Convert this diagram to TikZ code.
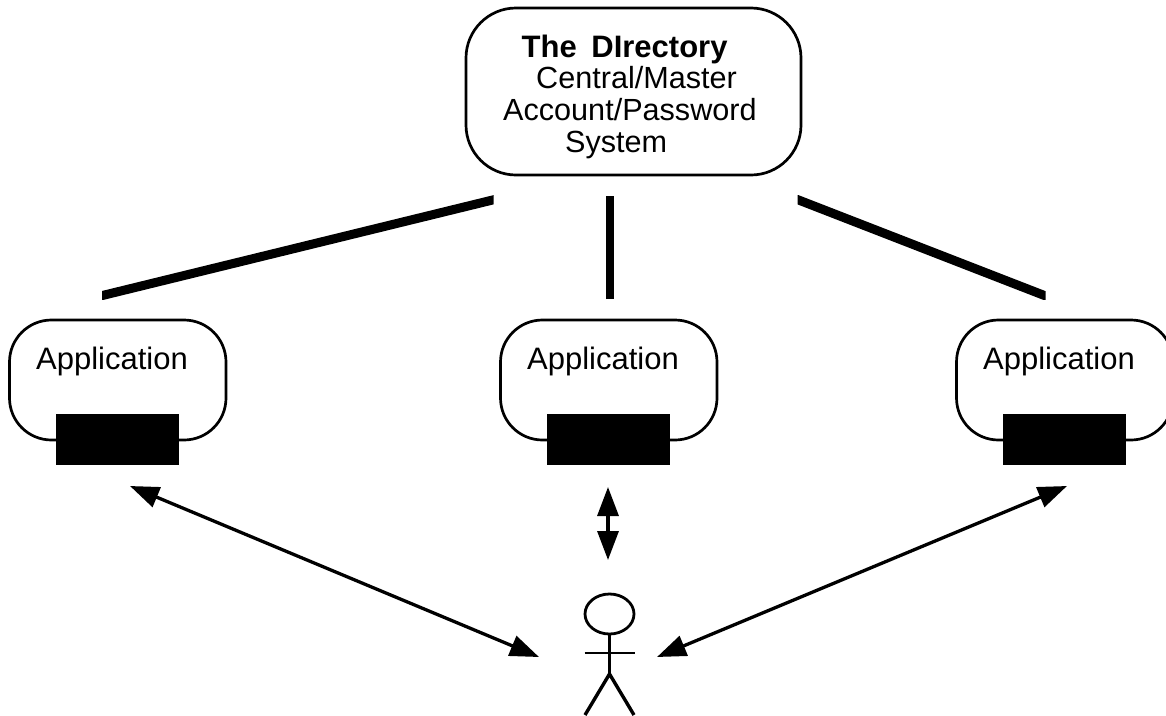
\documentclass[tikz,border=0pt]{standalone}
\usepackage{fontspec}
\setmainfont{Liberation Sans}
\usetikzlibrary{arrows.meta,shapes.geometric}
\tikzset{
  rbox/.style={draw,line width=2.7pt,rounded corners=#1},
  plug/.style={fill=black,draw=none,minimum width=123pt,minimum height=51pt,inner sep=0pt},
  lab/.style={inner sep=0pt,anchor=base west,font=\fontsize{31}{36}\selectfont},
  dirlab/.style={inner sep=0pt,anchor=base west,font=\fontsize{30.6}{36}\selectfont},
  dbl/.style={line width=3.3pt,{Triangle[length=29pt,width=21pt]}-{Triangle[length=29pt,width=21pt]}},
  man/.style={line width=2.8pt},
  leg/.style={line width=3.4pt},
  bar/.style={line width=9pt},
}
\begin{document}
\begin{tikzpicture}[x=1pt,y=-1pt]
\useasboundingbox (0,0) rectangle (1166,715);
\fill[white] (0,0) rectangle (1166,715);
\begin{scope}
\clip (0,0) rectangle (1166,715);
% directory
\draw[rbox=50pt] (466,8) rectangle (801,175);
\node[lab,font=\fontsize{31}{36}\selectfont\bfseries] (dirtitle) at (521.5,57) {The\hspace{6pt} DIrectory};
\node[dirlab] (dir1) at (536,88) {Central/Master};
\node[dirlab] (dir2) at (503,120) {Account/Password};
\node[dirlab] (dir3) at (565,152) {System};
% apps
\foreach \n/\x in {a/0,b/491,c/947}{
  \begin{scope}[shift={(\x,0)}]
  \draw[rbox=42pt] (9.5,320) rectangle (226,440);
  \node[plug] (\n p) at (117.5,439.5) {};
  \node[lab] (\n l) at (36,369) {Application};
  \end{scope}
}
% links to directory: ends cut square to the page axes
\coordinate (d1) at (513,195); \coordinate (a1) at (82,300.5);
\coordinate (d2) at (609.5,196); \coordinate (b1) at (609.5,299);
\coordinate (d3) at (777.5,191.8); \coordinate (c1) at (1065.5,303.7);
\begin{scope}
\clip (102,195.5) rectangle (493.7,299.5);
\draw[bar] (a1) -- (d1);
\end{scope}
\draw[line width=8pt] (b1) -- (d2);
\begin{scope}
\clip (797.5,195) rectangle (1045.7,299);
\draw[bar] (c1) -- (d3);
\end{scope}
% arrows
\coordinate (ua) at (130,486); \coordinate (pa) at (539,657);
\coordinate (ub) at (608,487); \coordinate (pb) at (608,560);
\coordinate (uc) at (1067,486); \coordinate (pc) at (657,657);
\draw[dbl] (ua) -- (pa);
\draw[dbl] (ub) -- (pb);
\draw[dbl] (uc) -- (pc);
% person
\node[draw,ellipse,line width=2.8pt,minimum width=49pt,minimum height=40pt,inner sep=0pt] (head) at (609.5,614) {};
\coordinate (hip) at (609.5,674);
\coordinate (la) at (584.5,653); \coordinate (ra) at (635,653);
\coordinate (lf) at (585,715); \coordinate (rf) at (634,715);
\draw[man] (head.south) -- (hip);
\draw[man] (la) -- (ra);
\draw[leg] (lf) -- (hip) -- (rf);
\end{scope}
\end{tikzpicture}
\end{document}
